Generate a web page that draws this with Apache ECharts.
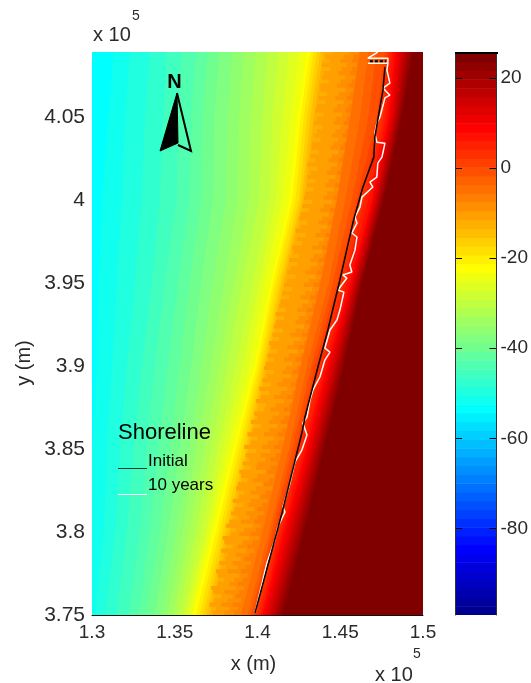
<!DOCTYPE html>
<html><head><meta charset="utf-8">
<style>html,body{margin:0;padding:0;background:#fff}#c{width:531px;height:683px}</style>
<script src="https://cdn.jsdelivr.net/npm/echarts@6/dist/echarts.min.js"></script>
</head><body><div id="c"></div>
<script>
// Units: km for the read-off contour positions (easting) and rows (northing)
var xTicks = [130000,135000,140000,145000,150000];
var yTicks = [375000,380000,385000,390000,395000,400000,405000];
var cbarTicks = [-80,-60,-40,-20,0,20];
var cbarMin = -99.2, cbarMax = 25.5;

// Smooth depth contours: colour-level indices and their easting on each northing
var contourLevels = [24,25,26,27,28,29,30,31,32,33,34,35,36,37,38,39,40,41,42,43,44,48,49,50,51,52,53,54,55,56,57,58,59,60,61,62,63];
var contourNorthings = [375,380,385,390,395,400,405,409];
var row375 = [129.5,130.2,130.8,131.5,132.2,132.8,133.3,133.8,134.2,134.6,134.9,135.2,135.5,135.7,135.9,136.1,136.3,136.5,136.7,136.9,137.1,139.0,139.4,139.6,139.75,139.9,140.05,140.2,140.3,140.45,140.6,140.75,140.9,141.05,141.2,141.35,141.5];
var row380 = [130.0,130.7,131.4,132.1,132.9,133.5,134.1,134.6,135.1,135.5,135.9,136.3,136.6,136.9,137.1,137.3,137.5,137.7,137.9,138.1,138.3,140.3,140.7,140.85,141.0,141.15,141.3,141.45,141.6,141.75,141.9,142.05,142.2,142.35,142.5,142.65,142.8];
var row385 = [130.0,130.9,131.7,132.5,133.3,134.0,134.7,135.3,135.9,136.3,136.8,137.2,137.6,137.9,138.2,138.5,138.7,138.9,139.1,139.3,139.45,141.5,141.9,142.1,142.3,142.45,142.6,142.8,142.95,143.08,143.21,143.34,143.47,143.6,143.73,143.87,144.0];
var row390 = [130.3,131.2,132.1,133.0,133.8,134.6,135.3,136.0,136.6,137.2,137.7,138.2,138.7,139.1,139.5,139.8,139.95,140.1,140.25,140.4,140.55,142.6,143.0,143.25,143.45,143.65,143.85,144.05,144.2,144.33,144.45,144.58,144.7,144.83,144.95,145.08,145.2];
var row395 = [130.4,131.5,132.6,133.6,134.4,135.2,135.9,136.6,137.3,138.0,138.6,139.1,139.7,140.1,140.4,140.8,140.95,141.1,141.3,141.45,141.6,143.8,144.3,144.55,144.8,145.0,145.2,145.4,145.6,145.69,145.78,145.86,145.95,146.04,146.13,146.21,146.3];
var row400 = [130.6,131.8,133.0,134.1,135.1,135.9,136.6,137.3,138.1,138.8,139.5,140.1,140.7,141.1,141.5,141.9,142.1,142.3,142.5,142.65,142.8,144.8,145.3,145.7,146.0,146.25,146.45,146.7,146.9,146.99,147.08,147.16,147.25,147.34,147.43,147.51,147.6];
var row405 = [131.0,132.0,133.2,134.3,135.2,136.0,136.7,137.4,138.2,138.9,139.6,140.3,140.9,141.5,142.0,142.4,142.6,142.8,143.0,143.2,143.4,145.6,146.2,146.7,147.2,147.4,147.6,147.75,147.9,148.0,148.1,148.2,148.3,148.4,148.5,148.6,148.7];
var row409 = [131.3,132.3,133.5,134.5,135.4,136.3,137.0,137.7,138.5,139.2,139.9,140.6,141.3,141.9,142.5,143.0,143.2,143.4,143.6,143.8,144.0,146.2,146.7,147.2,147.7,147.85,148.0,148.15,148.3,148.44,148.58,148.71,148.85,148.99,149.13,149.26,149.4];

// Jagged orange contours in the surf zone, one easting per 0.25 km of northing from 375.0
var jagStart = 375, jagStep = 0.25;
var jagLevelA = 45, jagLevelB = 46, jagLevelD = 47;
var jagA = [137.3,137.5,137.1,137.4,137.8,137.3,137.2,137.6,138.0,137.6,137.5,138.1,
137.7,138.1,138.2,137.8,138.5,138.0,137.9,138.4,138.7,138.1,138.3,138.8,
138.4,138.6,139.1,138.5,138.9,139.2,138.7,138.8,139.4,139.0,138.9,139.6,
139.1,139.5,139.3,139.9,139.2,139.6,140.0,139.4,139.7,140.2,139.6,140.0,
139.8,140.4,140.5,139.9,140.2,140.7,140.1,140.8,140.3,140.6,141.0,140.4,
140.5,141.0,140.6,141.2,140.8,140.7,141.3,140.9,141.5,141.0,141.1,141.6,
141.1,141.7,141.3,141.4,141.9,141.5,142.1,141.6,141.8,142.3,141.8,142.0,
142.4,141.9,142.5,142.2,142.1,142.7,142.4,142.9,142.3,142.6,143.0,142.5,
142.6,143.1,142.7,143.3,142.8,142.9,143.4,143.0,143.5,143.0,143.2,143.6,
143.0,143.5,143.2,143.7,143.3,143.3,143.8,143.4,143.6,143.9,143.4,143.6,
144.0,143.5,143.6,144.1,143.7,144.2,143.8,143.8,144.3,143.9,144.0,144.4,
143.9,144.4,144.1,144.5];
var jagB = [138.0,138.3,137.8,138.2,138.5,138.0,138.7,138.3,138.6,138.9,138.2,138.8,
138.5,139.0,138.7,139.3,138.8,139.1,139.5,138.9,139.2,139.7,139.0,139.5,
139.3,139.8,139.4,139.6,140.1,139.6,139.9,140.3,139.7,140.0,140.5,139.9,
140.0,140.5,140.2,140.8,140.3,140.6,141.0,140.4,140.7,141.2,140.7,140.9,
141.3,140.8,141.1,141.6,141.0,141.4,141.8,141.2,141.5,142.0,141.5,141.7,
142.1,141.6,141.9,142.4,141.8,142.2,142.6,142.0,142.3,142.8,142.3,142.5,
142.9,142.4,142.7,143.1,142.6,142.9,143.3,142.8,143.1,143.5,142.9,143.2,
143.6,143.2,143.4,143.9,143.3,143.7,144.0,143.5,143.8,144.2,143.7,143.9,
144.3,143.8,144.0,144.5,144.0,144.2,144.6,144.1,144.3,144.7,144.2,144.4,
144.8,144.3,144.5,144.9,144.4,144.6,144.9,144.5,144.7,145.0,144.6,144.7,
145.1,144.6,144.8,145.2,144.7,144.9,145.3,144.8,145.0,145.3,144.9,145.1,
145.4,145.0,145.2,145.5];
var jagD = [138.6,138.8,138.5,139.0,138.7,138.9,139.2,138.8,139.1,139.4,139.0,139.3,
139.6,139.2,139.5,139.8,139.4,139.7,140.1,139.6,139.9,140.2,139.8,140.0,
140.4,140.0,140.3,140.6,140.2,140.5,140.9,140.4,140.7,141.0,140.6,140.8,
141.2,140.8,141.1,141.4,141.0,141.3,141.7,141.2,141.5,141.8,141.4,141.6,
142.0,141.6,141.9,142.2,141.8,142.1,142.4,142.0,142.3,142.6,142.1,142.4,
142.7,142.3,142.6,143.0,142.5,142.8,143.1,142.7,143.0,143.3,142.9,143.1,
143.5,143.0,143.3,143.6,143.2,143.5,143.8,143.4,143.7,144.0,143.6,143.8,
144.1,143.7,144.0,144.3,143.9,144.2,144.5,144.1,144.4,144.7,144.3,144.5,
144.8,144.4,144.7,145.0,144.6,144.8,145.1,144.7,145.0,145.2,144.8,145.0,
145.3,144.9,145.1,145.4,145.0,145.2,145.5,145.1,145.3,145.6,145.2,145.4,
145.6,145.3,145.5,145.8,145.4,145.6,145.8,145.5,145.7,145.9,145.6,145.7,
146.0,145.7,145.8,146.1];

// Shorelines [easting km, northing km]
var shorelineInitial = [[147.70,407.99],[147.58,406.61],[147.40,405.58],[147.09,403.78],[147.03,402.57],[146.37,400.77],[145.89,399.08],[145.76,398.60],[144.98,395.17],[144.25,392.16],[143.65,389.93],[142.87,386.92],[142.68,385.96],[141.48,381.14],[139.85,375.12]];
var shorelineInitialTop = [[146.79,408.35],[147.76,408.35]];
var shoreline10y = [[147.27,408.89],[146.67,408.53],[147.88,408.53],[147.88,408.23],[146.67,408.23],[147.88,408.23],[147.82,407.81],[148.00,407.03],[147.58,406.73],[148.00,406.30],[147.70,406.14],[147.40,404.98],[147.21,404.62],[147.09,404.02],[147.21,403.47],[147.70,403.41],[147.52,402.57],[147.27,402.21],[147.21,401.37],[146.79,401.07],[146.97,400.77],[146.31,400.16],[146.19,399.56],[145.89,398.96],[146.01,398.60],[145.70,398.00],[146.01,397.76],[145.89,396.97],[145.58,396.07],[145.70,395.65],[145.16,395.47],[145.40,395.29],[144.86,394.57],[145.22,394.44],[144.98,393.36],[144.80,392.76],[144.38,392.16],[144.07,391.07],[144.38,390.83],[144.07,390.35],[143.77,389.33],[143.35,388.55],[143.17,387.94],[142.99,386.92],[142.74,386.56],[142.99,385.84],[142.68,384.93],[142.26,384.21],[141.96,382.95],[141.54,381.50],[141.66,381.20],[141.23,380.30],[141.05,379.52],[140.57,378.13],[139.85,375.12]];

// 64-level jet colormap
function jet(i){
  var t=(i+1)/64;
  function c(v){return Math.round(Math.max(0,Math.min(1,v))*255);}
  var r=1.5-Math.abs(4*t-3), g=1.5-Math.abs(4*t-2), b=1.5-Math.abs(4*t-1);
  return 'rgb('+c(r)+','+c(g)+','+c(b)+')';
}

var rows = [row375,row380,row385,row390,row395,row400,row405,row409];
var bands = [{level:23, pts:[[120,370],[120,415]]}];
contourLevels.forEach(function(lv,k){
  bands.push({level:lv, pts:rows.map(function(r,j){return [r[k],contourNorthings[j]];})});
});
function jagBand(level,arr){
  var pts=[];
  arr.forEach(function(x,i){
    var y=jagStart+jagStep*i;
    pts.push([x,y]); pts.push([x,y+jagStep]);
  });
  return {level:level,pts:pts};
}
bands.push(jagBand(jagLevelA,jagA));
bands.push(jagBand(jagLevelB,jagB));
bands.push(jagBand(jagLevelD,jagD));
bands.sort(function(a,b){return a.level-b.level;});

function toMetres(p){return [p[0]*1000,p[1]*1000];}
var cbarData=[]; for(var i=0;i<64;i++) cbarData.push(i);

var tickColor='#2a2a2a';
var chart=echarts.init(document.getElementById('c'),null,{renderer:'canvas'});
chart.setOption({
  animation:false,
  backgroundColor:'#fff',
  grid:[
    {left:92,top:52,width:331,height:563,show:false},
    {left:455,top:53,width:43,height:562,show:false}
  ],
  xAxis:[
    {gridIndex:0,type:'value',min:130000,max:150000,interval:5000,splitLine:{show:false},z:6,
     axisLine:{show:true,onZero:false,lineStyle:{color:'#111',width:1}},axisTick:{show:false},
     axisLabel:{margin:8,fontFamily:'Liberation Sans',fontSize:19,color:tickColor,showMinLabel:true,showMaxLabel:true,hideOverlap:false,customValues:xTicks,formatter:function(v){return String(v/100000);}},
     name:'x (m)',nameLocation:'middle',nameGap:39,nameTextStyle:{fontFamily:'Liberation Sans',fontSize:20,color:tickColor,padding:[0,8,0,0]}},
    {gridIndex:1,type:'value',min:0,max:1,show:false,position:'top',axisLine:{onZero:false}}
  ],
  yAxis:[
    {gridIndex:0,type:'value',min:375000,max:408900,interval:5000,splitLine:{show:false},
     axisLine:{show:false,onZero:false},axisTick:{show:false},
     axisLabel:{margin:7,padding:[3,0,0,0],fontFamily:'Liberation Sans',fontSize:21,color:tickColor,customValues:yTicks,formatter:function(v){return String(v/100000);}}},
    {gridIndex:1,type:'value',position:'right',min:cbarMin,max:cbarMax,splitLine:{show:false},z:6,
     axisLine:{show:true,onZero:false,lineStyle:{color:'#333',width:1}},
     axisTick:{show:false},
     axisLabel:{margin:4,fontFamily:'Liberation Sans',fontSize:19,color:tickColor,customValues:cbarTicks}},
    {gridIndex:1,type:'value',position:'left',min:cbarMin,max:cbarMax,splitLine:{show:false},z:6,
     axisLine:{show:true,onZero:false,lineStyle:{color:'#333',width:1}},
     axisTick:{show:false},
     axisLabel:{show:false}}
  ],
  series:[
    {type:'custom',name:'Bathymetry',xAxisIndex:0,yAxisIndex:0,silent:true,clip:true,z:1,
     data:bands.map(function(b,i){return [i];}),
     encode:{x:[],y:[]},
     renderItem:function(params,api){
       var b=bands[api.value(0)];
       var pts=b.pts.map(function(p){return api.coord(toMetres(p));});
       pts.push(api.coord([155000,b.pts[b.pts.length-1][1]*1000]));
       pts.push(api.coord([155000,b.pts[0][1]*1000]));
       return {type:'polygon',shape:{points:pts},style:{fill:jet(b.level),stroke:null}};
     }},
    {type:'line',name:'10 years',xAxisIndex:0,yAxisIndex:0,data:shoreline10y.map(toMetres),showSymbol:false,silent:true,z:3,
     lineStyle:{color:'#fff',width:1.5}},
    {type:'line',name:'Initial',xAxisIndex:0,yAxisIndex:0,data:shorelineInitial.map(toMetres),showSymbol:false,silent:true,z:4,
     lineStyle:{color:'#000',width:1.5}},
    {type:'line',name:'Initial top',xAxisIndex:0,yAxisIndex:0,data:shorelineInitialTop.map(toMetres),showSymbol:false,silent:true,z:4,
     lineStyle:{color:'#000',width:2,type:[3,2]}},
    {type:'custom',name:'Colorbar',xAxisIndex:1,yAxisIndex:1,silent:true,clip:true,z:1,
     data:cbarData.map(function(i){return [i];}),
     encode:{x:[],y:[]},
     renderItem:function(params,api){
       var i=api.value(0), s=(cbarMax-cbarMin)/64;
       var a=api.coord([0,cbarMin+s*(i+1)]), b=api.coord([1,cbarMin+s*i]);
       return {type:'rect',shape:{x:a[0],y:a[1],width:b[0]-a[0],height:b[1]-a[1]+0.5},style:{fill:jet(i)}};
     }},
    {type:'custom',name:'Colorbar ticks',xAxisIndex:1,yAxisIndex:1,silent:true,clip:true,z:5,
     data:cbarTicks.map(function(v){return [v];}),
     encode:{x:[],y:[]},
     renderItem:function(params,api){
       var v=api.value(0), a=api.coord([0,v]), b=api.coord([1,v]), y=Math.round(a[1])+0.5;
       var st={stroke:'#000',lineWidth:1};
       return {type:'group',children:[
         {type:'line',shape:{x1:a[0],y1:y,x2:a[0]+7,y2:y},style:st},
         {type:'line',shape:{x1:b[0]-7,y1:y,x2:b[0],y2:y},style:st}
       ]};
     }}
  ],
  graphic:[
    {type:'text',left:93,top:25,style:{text:'x 10',font:'20px "Liberation Sans"',fill:tickColor}},
    {type:'text',left:132,top:9,style:{text:'5',font:'14px "Liberation Sans"',fill:tickColor}},
    {type:'text',left:375,top:665,style:{text:'x 10',font:'20px "Liberation Sans"',fill:tickColor}},
    {type:'text',left:413,top:647,style:{text:'5',font:'14px "Liberation Sans"',fill:tickColor}},
    {type:'text',x:24,y:363,rotation:Math.PI/2,style:{text:'y (m)',font:'20px "Liberation Sans"',fill:tickColor,align:'center',verticalAlign:'middle'}},
    {type:'text',left:118,top:422,z:10,style:{text:'Shoreline',font:'22px "Liberation Sans"',fill:'#000'}},
    {type:'text',left:148,top:453,z:10,style:{text:'Initial',font:'17px "Liberation Sans"',fill:'#000'}},
    {type:'text',left:148,top:477,z:10,style:{text:'10 years',font:'17px "Liberation Sans"',fill:'#000'}},
    {type:'line',z:10,shape:{x1:118,y1:468.5,x2:147,y2:468.5},style:{stroke:'#0a3a3a',lineWidth:1}},
    {type:'line',z:10,shape:{x1:118,y1:494.5,x2:147,y2:494.5},style:{stroke:'#fff',lineWidth:1}},
    {type:'line',z:10,shape:{x1:455,y1:53,x2:498,y2:53},style:{stroke:'#000',lineWidth:2}},
    {type:'text',x:174.5,y:82,z:10,style:{text:'N',font:'bold 20px "Liberation Sans"',fill:'#000',align:'center',verticalAlign:'middle'}},
    {type:'polygon',z:10,shape:{points:[[177,93],[160,151],[178,143]]},style:{fill:'#000',stroke:'#000',lineWidth:1}},
    {type:'polyline',z:10,shape:{points:[[177,93],[191,151],[178,145]]},style:{fill:null,stroke:'#000',lineWidth:2}}
  ]
});
</script></body></html>
